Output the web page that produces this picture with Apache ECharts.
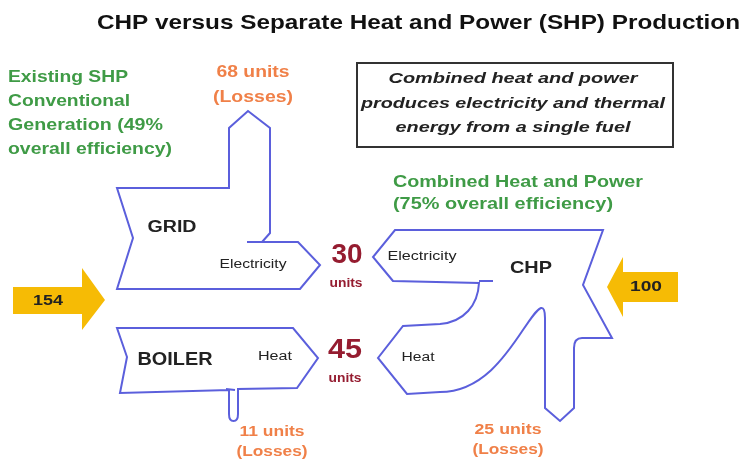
<!DOCTYPE html>
<html><head><meta charset="utf-8">
<script src="https://cdn.jsdelivr.net/npm/echarts@6/dist/echarts.min.js"></script>
<style>html,body{margin:0;padding:0;background:#fff}#main{width:749px;height:459px}</style>
</head><body><div id="main"></div>
<script>
// ---------------- data ----------------
const systems = ['SHP', 'CHP'];
const fuelInput = [154, 100];
const efficiencyPct = [49, 75];
const outputNames = ['Electricity', 'Heat'];
const outputUnits = [30, 45];
const converters = ['GRID', 'BOILER', 'CHP'];
const lossUnits = [68, 11, 25];
const titleText = 'CHP versus Separate Heat and Power (SHP) Production';
const noteLines = ['Combined heat and power', 'produces electricity and thermal', 'energy from a single fuel'];

// ---------------- layout / style ----------------
const C = {blue:'#5b5fdc', green:'#3f9b46', orange:'#f08048', red:'#951c30', dark:'#222222', yellow:'#f6bb05', box:'#333333'};
const FONT = '"Liberation Sans", Arial, sans-serif';

const shapePaths = [
  [['M',117,188],['L',229,188],['L',229,128],['L',248,111],['L',270,128],['L',270,233],['L',262,242],['L',298,242],['L',320,265],['L',300,289],['L',117,289],['L',133,238],['Z'],['M',247,242],['L',262,242]],
  [['M',117,328],['L',293,328],['L',318,358],['L',297,388],['L',238,389],['L',238,414],['Q',238,421,233.5,421],['Q',229,421,229,414],['L',229,390],['L',120,393],['L',127,357],['Z'],['M',226,389],['L',235,390]],
  [['M',393,281],['L',373,257],['L',395,230],['L',603,230],['L',583,285],['L',612,338],['L',582,338],['Q',574,338,574,348],['L',574,408],['L',560,421],['L',545,408],['L',545,318],['Q',545,307,541,308],['C',525,315,500,392,440,392],['L',407,394],['L',378,358],['L',403,326],['L',440,324],['C',464,322,478,305,479,283],['Z'],['M',479,281],['L',493,281]]
];

const fuelArrowGeom = [
  {rect:[13,287,82,314], head:[[82,268],[105,300],[82,330]], label:[48,301,30]},
  {rect:[623,272,678,302], head:[[623,257],[607,287],[623,317]], label:[646,287,32]}
];
const noteBox = [357,63,673,147];

// text items: [text, x, y, targetWidth, size, weight, style, color, align]
const textItems = [
  [titleText, 97, 23, 643, 21, 'bold', 'normal', '#111111', 'left'],
  ['Existing ' + systems[0], 8, 77, 120, 16.5, 'bold', 'normal', C.green, 'left'],
  ['Conventional', 8, 101, 122, 16.5, 'bold', 'normal', C.green, 'left'],
  ['Generation (' + efficiencyPct[0] + '%', 8, 125, 155, 16.5, 'bold', 'normal', C.green, 'left'],
  ['overall efficiency)', 8, 149, 164, 16.5, 'bold', 'normal', C.green, 'left'],
  [lossUnits[0] + ' units', 253, 72, 73, 16.5, 'bold', 'normal', C.orange, 'center'],
  ['(Losses)', 253, 97, 80, 16.5, 'bold', 'normal', C.orange, 'center'],
  [noteLines[0], 513, 79, 249, 15, 'bold', 'italic', C.dark, 'center'],
  [noteLines[1], 513, 104, 304, 15, 'bold', 'italic', C.dark, 'center'],
  [noteLines[2], 513, 128, 235, 15, 'bold', 'italic', C.dark, 'center'],
  ['Combined Heat and Power', 393, 182, 250, 16.5, 'bold', 'normal', C.green, 'left'],
  ['(' + efficiencyPct[1] + '% overall efficiency)', 393, 204, 220, 16.5, 'bold', 'normal', C.green, 'left'],
  [converters[0], 172, 228, 49, 16, 'bold', 'normal', C.dark, 'center'],
  [outputNames[0], 253, 265, 67, 12, 'normal', 'normal', C.dark, 'center'],
  [String(outputUnits[0]), 347, 255, 31, 28, 'bold', 'normal', C.red, 'center'],
  ['units', 346, 283, 33, 13, 'bold', 'normal', C.red, 'center'],
  [String(outputUnits[1]), 345, 350, 34, 28, 'bold', 'normal', C.red, 'center'],
  ['units', 345, 378, 33, 13, 'bold', 'normal', C.red, 'center'],
  [converters[1], 175, 360, 75, 18, 'bold', 'normal', C.dark, 'center'],
  [outputNames[1], 275, 357, 34, 12, 'normal', 'normal', C.dark, 'center'],
  [outputNames[0], 422, 257, 69, 12, 'normal', 'normal', C.dark, 'center'],
  [converters[2], 531, 268, 42, 17, 'bold', 'normal', C.dark, 'center'],
  [outputNames[1], 418, 358, 33, 12, 'normal', 'normal', C.dark, 'center'],
  [lossUnits[2] + ' units', 508, 430, 67, 15, 'bold', 'normal', C.orange, 'center'],
  ['(Losses)', 508, 450, 71, 15, 'bold', 'normal', C.orange, 'center'],
  [lossUnits[1] + ' units', 272, 432, 65, 15, 'bold', 'normal', C.orange, 'center'],
  ['(Losses)', 272, 452, 71, 15, 'bold', 'normal', C.orange, 'center']
];

// ---------------- helpers ----------------
const mctx = document.createElement('canvas').getContext('2d');
function measure(t, size, weight, style) {
  mctx.font = style + ' ' + weight + ' ' + size + 'px ' + FONT;
  return mctx.measureText(t).width;
}
function buildPath(cmds, api) {
  let s = '';
  cmds.forEach(c => {
    const k = c[0];
    if (k === 'Z') { s += 'Z '; return; }
    const pts = [];
    for (let i = 1; i < c.length; i += 2) {
      const p = api.coord([c[i], c[i + 1]]);
      pts.push(p[0].toFixed(2) + ' ' + p[1].toFixed(2));
    }
    s += k + ' ' + pts.join(' ') + ' ';
  });
  return s;
}

const chart = echarts.init(document.getElementById('main'), null, {renderer: 'canvas'});
chart.setOption({
  animation: false,
  backgroundColor: '#ffffff',
  grid: {left: 0, right: 0, top: 0, bottom: 0},
  xAxis: {type: 'value', min: 0, max: 749, show: false},
  yAxis: {type: 'value', min: 0, max: 459, inverse: true, show: false},
  series: [
    {
      type: 'custom', name: 'note', silent: true, data: [[0]],
      renderItem: (params, api) => {
        const a = api.coord([noteBox[0], noteBox[1]]), b = api.coord([noteBox[2], noteBox[3]]);
        return {type: 'rect', shape: {x: a[0], y: a[1], width: b[0] - a[0], height: b[1] - a[1]},
          style: {fill: '#ffffff', stroke: C.box, lineWidth: 2}};
      }
    },
    {
      type: 'custom', name: 'converters', silent: true,
      data: converters.map((c, i) => [i]),
      renderItem: (params, api) => ({
        type: 'path',
        shape: {pathData: buildPath(shapePaths[params.dataIndex], api)},
        style: {fill: 'none', stroke: C.blue, lineWidth: 2, lineJoin: 'miter'}
      })
    },
    {
      type: 'custom', name: 'fuel', silent: true,
      data: fuelInput.map((v, i) => [i, v]),
      renderItem: (params, api) => {
        const g = fuelArrowGeom[params.dataIndex];
        const r = g.rect;
        let pts;
        if (params.dataIndex === 0) {
          pts = [[r[0], r[1]], [r[2], r[1]], g.head[0], g.head[1], g.head[2], [r[2], r[3]], [r[0], r[3]]];
        } else {
          pts = [[r[2], r[1]], [r[0], r[1]], g.head[0], g.head[1], g.head[2], [r[0], r[3]], [r[2], r[3]]];
        }
        const lp = api.coord([g.label[0], g.label[1]]);
        const txt = String(api.value(1));
        const sx = g.label[2] / measure(txt, 15, 'bold', 'normal');
        return {type: 'group', children: [
          {type: 'polygon', shape: {points: pts.map(p => api.coord(p))}, style: {fill: C.yellow}},
          {type: 'text', x: lp[0], y: lp[1], scaleX: sx,
            style: {text: txt, fontSize: 15, fontWeight: 'bold', fontFamily: FONT, fill: '#222', align: 'center', verticalAlign: 'middle'}}
        ]};
      }
    },
    {
      type: 'custom', name: 'texts', silent: true,
      data: textItems.map((t, i) => [i]),
      renderItem: (params, api) => {
        const t = textItems[params.dataIndex];
        const p = api.coord([t[1], t[2]]);
        const sx = t[3] / measure(t[0], t[4], t[5], t[6]);
        return {type: 'text', x: p[0], y: p[1], scaleX: sx,
          style: {text: t[0], fontSize: t[4], fontWeight: t[5], fontStyle: t[6], fontFamily: FONT,
            fill: t[7], align: t[8], verticalAlign: 'middle'}};
      }
    }
  ]
});
</script>
</body></html>
